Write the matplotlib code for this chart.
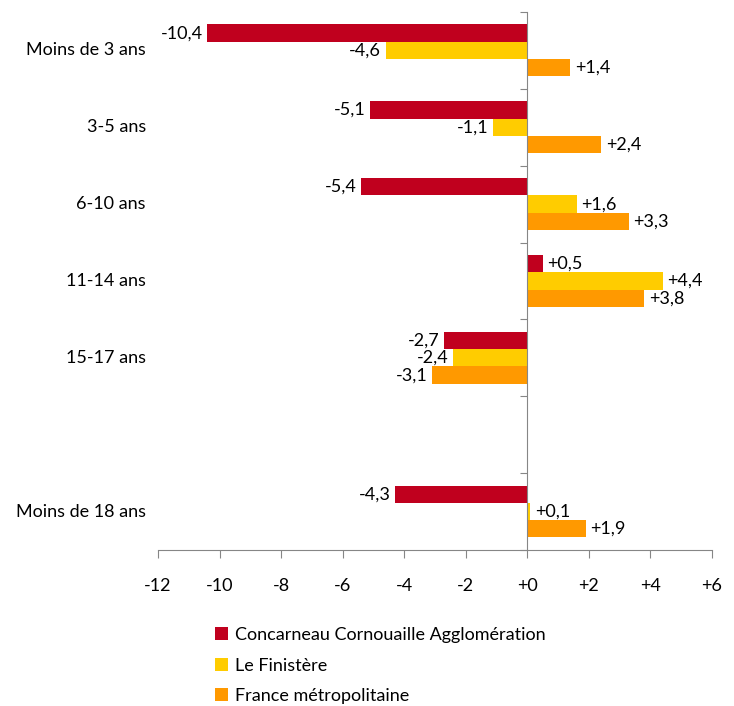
import matplotlib
matplotlib.use('Agg')
import matplotlib.pyplot as plt
import numpy as np
from matplotlib.ticker import FixedLocator, FuncFormatter
from matplotlib.transforms import blended_transform_factory

plt.rcParams['font.family'] = ['Lato', 'DejaVu Sans']

# données (écart en points), une catégorie vide avant "Moins de 18 ans"
categories = ['Moins de 3 ans', '3-5 ans', '6-10 ans', '11-14 ans', '15-17 ans', '', 'Moins de 18 ans']
concarneau = [-10.4, -5.1, -5.4, 0.5, -2.7, np.nan, -4.3]
finistere = [-4.6, -1.1, 1.6, 4.4, -2.4, np.nan, 0.1]
france = [1.4, 2.4, 3.3, 3.8, -3.1, np.nan, 1.9]
series = ['Concarneau Cornouaille Agglomération', 'Le Finistère', 'France métropolitaine']
colors = ['#C0001E', '#FFCC00', '#FF9900']


def fmt_val(v):
    s = '%+.1f' % v
    return s.replace('.', ',')


def main():
    fig = plt.figure(figsize=(7.34, 7.06), dpi=100)
    ax = fig.add_axes([0.2153, 0.2210, 0.7547, 0.7620])

    y = np.arange(len(categories))
    h = 0.225
    fs = 13
    for i, (vals, col, lab) in enumerate(zip([concarneau, finistere, france], colors, series)):
        pos = y + (i - 1) * h
        ax.barh(pos, vals, height=h, color=col, label=lab)
        for p, v in zip(pos, vals):
            if np.isnan(v):
                continue
            if v < 0:
                ax.text(v - 0.15, p, fmt_val(v).replace('+', ''), ha='right', va='center', fontsize=fs)
            else:
                ax.text(v + 0.15, p, fmt_val(v), ha='left', va='center', fontsize=fs)

    ax.set_xlim(-12, 6)
    ax.set_ylim(len(categories) - 0.5, -0.5)
    ax.xaxis.set_major_locator(FixedLocator(np.arange(-12, 7, 2)))
    ax.xaxis.set_major_formatter(FuncFormatter(lambda v, p: ('%+d' % v) if v >= 0 else '%d' % v))
    ax.tick_params(axis='x', direction='out', length=6, color='#868686', labelsize=fs, pad=14)

    # axe vertical à zéro avec graduations entre catégories
    ax.spines['left'].set_position(('data', 0))
    ax.spines['top'].set_visible(False)
    ax.spines['right'].set_visible(False)
    for s in ['left', 'bottom']:
        ax.spines[s].set_color('#868686')
    ax.yaxis.set_major_locator(FixedLocator(np.arange(-0.5, len(categories), 1)))
    ax.yaxis.set_major_formatter(FuncFormatter(lambda v, p: ''))
    ax.tick_params(axis='y', direction='out', length=5, color='#868686')

    tr = blended_transform_factory(ax.transAxes, ax.transData)
    for yy, c in zip(y, categories):
        ax.text(-0.022, yy, c, transform=tr, ha='right', va='center', fontsize=fs)

    handles, labels = ax.get_legend_handles_labels()
    fig.legend(handles, labels, loc='upper left', bbox_to_anchor=(0.283, 0.122),
               frameon=False, fontsize=fs, handlelength=0.7, handleheight=0.7,
               handletextpad=0.4, labelspacing=0.8, borderaxespad=0)

    plt.savefig('out.png', dpi=100)


if __name__ == '__main__':
    main()
